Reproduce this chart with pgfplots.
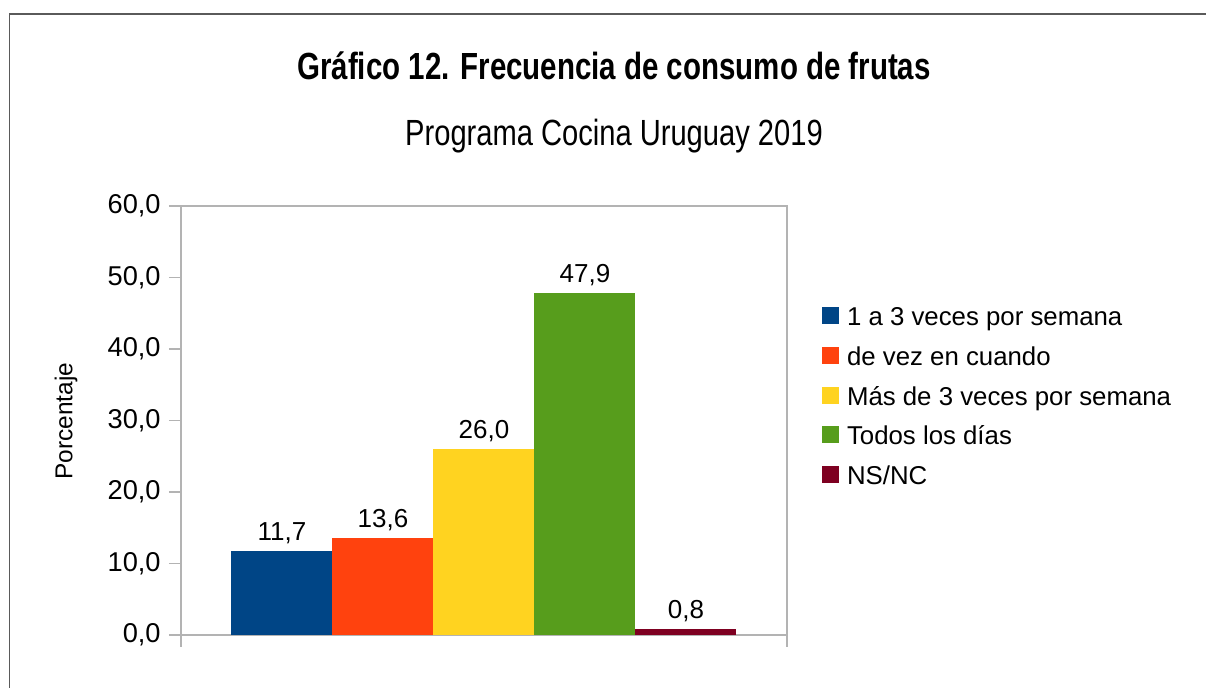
\documentclass[border=0pt]{standalone}
\usepackage{fontspec}
\setmainfont{Liberation Sans}
\newfontfamily\titlefont[FakeStretch=0.78]{Liberation Sans}
\newfontfamily\subfont[FakeStretch=0.80]{Liberation Sans}
\usepackage{pgfplots}
\pgfplotsset{compat=1.18}
\definecolor{c1}{HTML}{004586}
\definecolor{c2}{HTML}{FF420E}
\definecolor{c3}{HTML}{FFD320}
\definecolor{c4}{HTML}{579D1C}
\definecolor{c5}{HTML}{7E0021}
\definecolor{framegray}{HTML}{B3B3B3}
\definecolor{bordergray}{HTML}{5A5A5A}
\begin{document}
\begin{tikzpicture}
\useasboundingbox (0,0) rectangle (603pt,344pt);
\begin{scope}
\clip (0,0) rectangle (603pt,344pt);
\draw[bordergray, line width=0.9pt] (4.75pt,-5pt) -- (4.75pt,337pt) -- (610pt,337pt);
\end{scope}
\node[anchor=base, font=\titlefont\bfseries\fontsize{18.9pt}{22pt}\selectfont] at (307pt,304pt) {Gráfico 12. Frecuencia de consumo de frutas};
\node[anchor=base, font=\subfont\fontsize{18.2pt}{22pt}\selectfont] at (307pt,271pt) {Programa Cocina Uruguay 2019};
\node[rotate=90, font=\fontsize{12.2pt}{14pt}\selectfont] at (33pt,133.5pt) {Porcentaje};
\begin{axis}[
  at={(90.5pt,26.5pt)}, anchor=south west,
  scale only axis, width=303pt, height=214.5pt,
  ybar, bar width=1, bar shift=0pt,
  xmin=-3, xmax=3, ymin=0, ymax=60,
  xtick={-3,3}, xticklabels={},
  ytick={0,10,20,30,40,50,60},
  xtick pos=bottom, ytick pos=left,
  tick align=outside,
  major tick length=6pt,
  every tick/.style={framegray, line width=0.6pt},
  axis line style={framegray, line width=0.6pt},
  /pgf/number format/assume math mode=true,
  yticklabel={\pgfmathprintnumber[fixed,fixed zerofill,precision=1,use comma]{\tick}},
  yticklabel style={font=\fontsize{13.6pt}{15pt}\selectfont, anchor=east, inner sep=0pt, xshift=-4pt},
  nodes near coords={\pgfmathprintnumber[fixed,fixed zerofill,precision=1,use comma,assume math mode=true]{\pgfplotspointmeta}},
  every node near coord/.append style={font=\fontsize{13pt}{15pt}\selectfont, text=black},
  legend style={at={(1.0578,0.551)}, anchor=west, draw=none, fill=none, inner sep=0pt, outer sep=0pt,
    font=\fontsize{12.9pt}{15pt}\selectfont, row sep=7.3pt, column sep=4pt,
    nodes={inner sep=0pt, text height=9.5pt, text depth=3pt}},
  legend cell align=left,
  legend image code/.code={\fill[#1] (0pt,-2.5pt) rectangle (8.5pt,6pt);},
  clip=false,
]
\addplot[fill=c1, draw=none] coordinates {(-2,11.7)};
\addlegendentry{1 a 3 veces por semana}
\addplot[fill=c2, draw=none] coordinates {(-1,13.6)};
\addlegendentry{de vez en cuando}
\addplot[fill=c3, draw=none] coordinates {(0,26.0)};
\addlegendentry{Más de 3 veces por semana}
\addplot[fill=c4, draw=none] coordinates {(1,47.9)};
\addlegendentry{Todos los días}
\addplot[fill=c5, draw=none] coordinates {(2,0.8)};
\addlegendentry{NS/NC}
\end{axis}
\end{tikzpicture}
\end{document}
